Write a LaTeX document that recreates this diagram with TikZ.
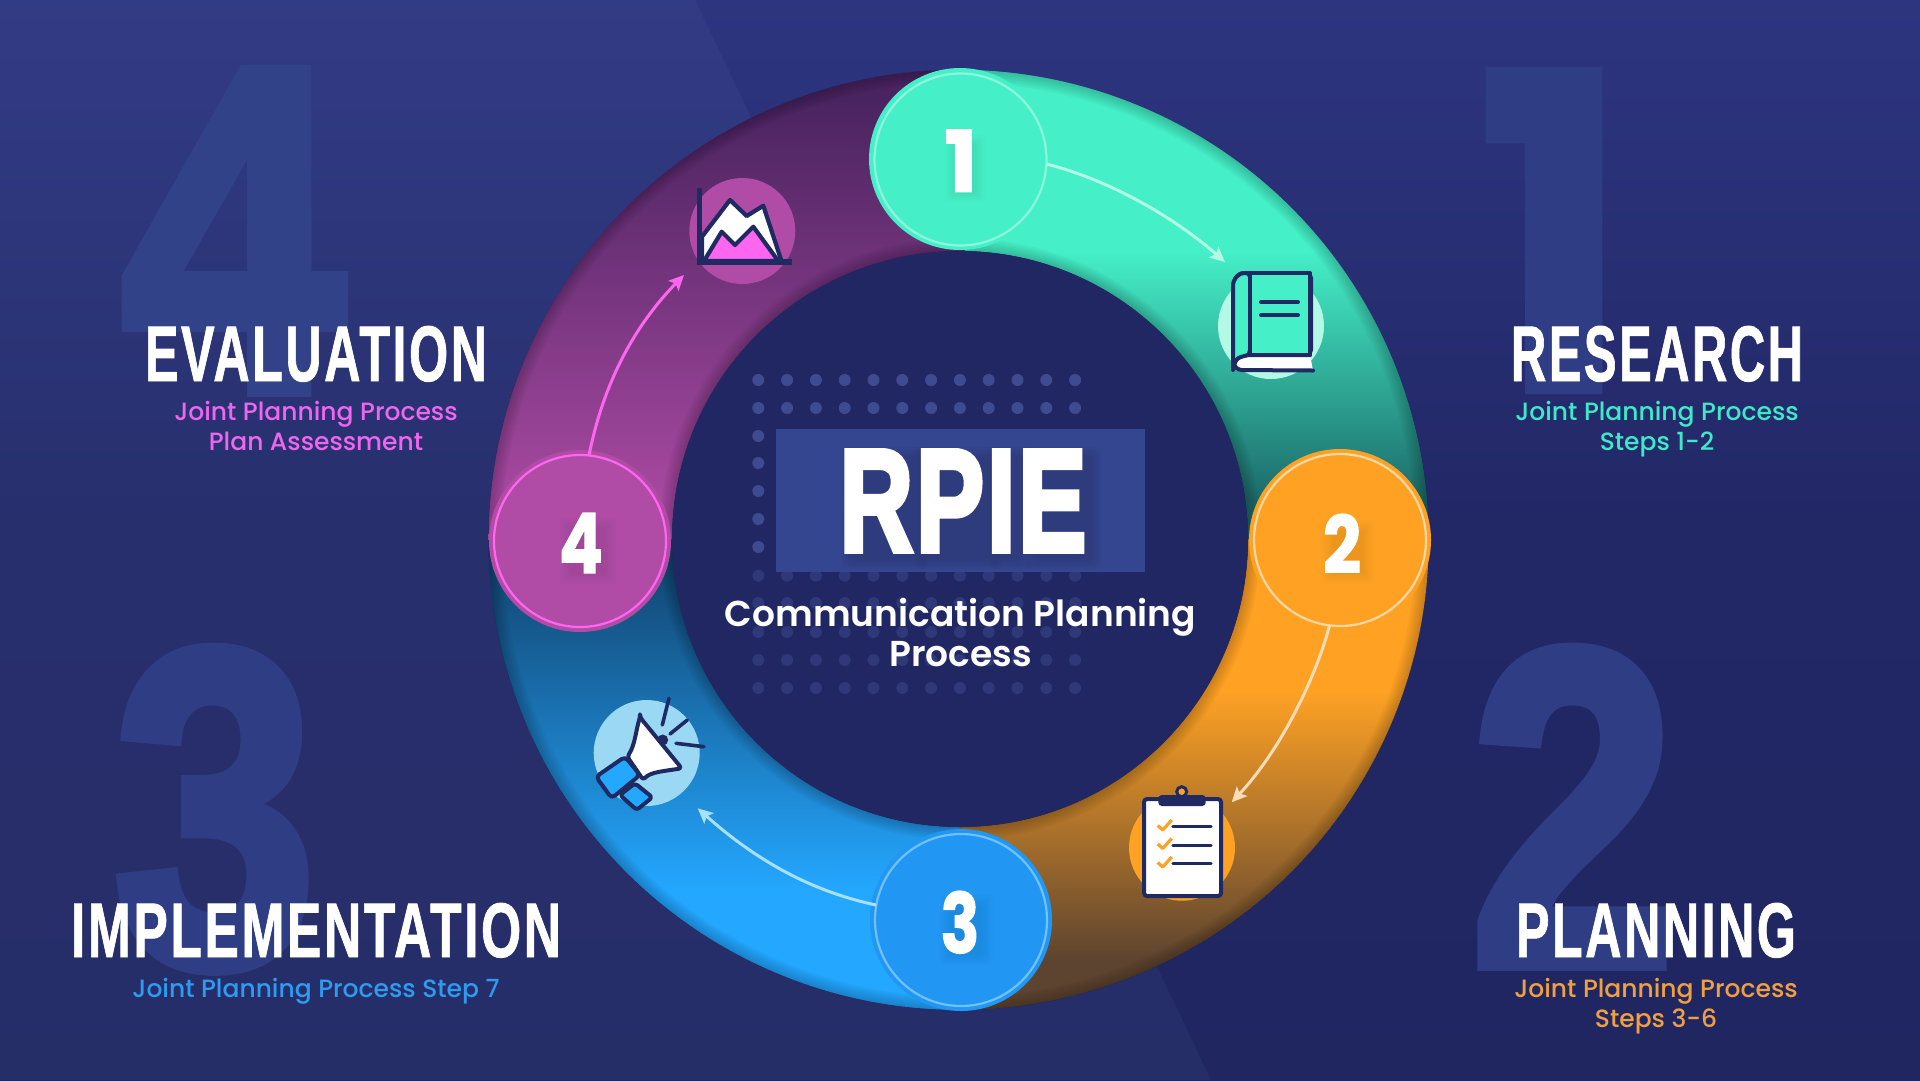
\documentclass[tikz,border=0pt]{standalone}
\usepackage{fontspec}
\usepackage{graphicx}
\usetikzlibrary{arrows.meta}
\setmainfont{Poppins}
\newfontfamily\hdfont[FakeBold=1.2,LetterSpace=5]{Liberation Sans Bold}
\newfontfamily\bigfont[FakeBold=4,LetterSpace=3]{Liberation Sans Bold}
\newfontfamily\ghostfont[FakeBold=3]{Liberation Sans Bold}
\newfontfamily\digitfont[FakeBold=1.5]{Poppins Bold}
\newfontfamily\popmed{Poppins Medium}
\newfontfamily\popsemi{Poppins SemiBold}
\definecolor{navy}{HTML}{1F2A63}
\definecolor{innerdisk}{HTML}{212762}
\definecolor{bgtop}{HTML}{2D3580}
\definecolor{bgmid}{HTML}{222866}
\definecolor{bgbot}{HTML}{202660}
\definecolor{ghost}{HTML}{2F3D84}
\definecolor{ghostb}{HTML}{324289}
\definecolor{plaque}{HTML}{34468F}
\definecolor{dotA}{HTML}{3E4B90}
\definecolor{dotB}{HTML}{2F3878}
\definecolor{teal}{HTML}{45F0C8}
\definecolor{tealdark}{HTML}{1C6A6A}
\definecolor{tealring}{HTML}{8FF6DE}
\definecolor{tealpale}{HTML}{B4F9E6}
\definecolor{orng}{HTML}{FFA224}
\definecolor{orngdark}{HTML}{5D4430}
\definecolor{orngring}{HTML}{FBD7A5}
\definecolor{orngpale}{HTML}{F8DCB8}
\definecolor{blu}{HTML}{24A7FF}
\definecolor{bludark}{HTML}{124570}
\definecolor{bludisk}{HTML}{2196F3}
\definecolor{bluring}{HTML}{6FC2FA}
\definecolor{blupale}{HTML}{A8E0FF}
\definecolor{blucirc}{HTML}{9AD8F4}
\definecolor{purp}{HTML}{B04CA6}
\definecolor{purpdark}{HTML}{4A2460}
\definecolor{pink}{HTML}{FF66F0}
\definecolor{subteal}{HTML}{3FE8C8}
\definecolor{subpink}{HTML}{EE66EE}
\definecolor{subblue}{HTML}{2E9BF0}
\definecolor{suborng}{HTML}{F0A040}
\newcommand{\fitbox}[3]{\resizebox{#1pt}{#2pt}{\hdfont #3}}
\newcommand{\fitbig}[3]{\resizebox{#1pt}{#2pt}{\bigfont #3}}
\newcommand{\fitghost}[3]{\resizebox{#1pt}{#2pt}{\ghostfont #3}}
\newcommand{\fitdigit}[3]{\resizebox{#1pt}{#2pt}{\digitfont #3}}
% annular sector with a vertical colour ramp between y=#3 and y=#4
\newcommand{\band}[6]{%
  \begin{scope}
    \clip ([shift={(958.7,539.8)}]#1:470) arc[start angle=#1,end angle=#2,radius=470]
       -- ([shift={(960,539)}]#2:288) arc[start angle=#2,end angle=#1,radius=288] -- cycle;
    \fill[#5] (480,60) rectangle (1440,#3);
    \shade[top color=#5,bottom color=#6] (480,#3) rectangle (1440,#4);
    \fill[#6] (480,#4) rectangle (1440,1020);
  \end{scope}}
\newcommand{\softrect}[5]{%
  \foreach \s in {0,2,...,10}
    \fill[black,opacity=#5,rounded corners=3pt] (#1-\s,#2-\s) rectangle (#3+\s,#4+\s);}
\tikzset{
  heading/.style={text=white,inner sep=0pt,anchor=base},
  ghostnum/.style={text=ghost,inner sep=0pt,anchor=base},
  subline/.style={inner sep=0pt,align=center,font=\popmed\fontsize{25}{30.6}\selectfont},
  disknode/.style={circle,inner sep=0pt,outer sep=0pt,minimum size=172pt,line width=2.2pt,text=white},
  iconback/.style={circle,inner sep=0pt,outer sep=0pt,minimum size=106pt},
  iconline/.style={draw=navy,line width=4pt,line join=round,line cap=round},
  arrowline/.style={line width=3pt,-{Stealth[length=15pt,width=14pt,inset=3pt]}}
}
\begin{document}
\begin{tikzpicture}[x=1pt,y=-1pt]
\useasboundingbox (0,0) rectangle (1920,1080);
% background
\shade[top color=bgtop,bottom color=bgmid] (0,0) rectangle (1920,520);
\shade[top color=bgmid,bottom color=bgbot] (0,520) rectangle (1920,1080);
\fill[fill={rgb,255:red,110;green,140;blue,200},opacity=.08] (0,0) -- (695,0) -- (1211,1080) -- (0,1080) -- cycle;
% ghost numerals
\node[ghostnum,text=ghostb] (g4) at (233,390) {\fitghost{222}{318}{4}};
\node[ghostnum] (g1) at (1553,391) {\fitdigit{150}{320}{1}};
\node[ghostnum] (g3) at (215,964) {\fitghost{202}{314}{3}};
\node[ghostnum] (g2) at (1573,964) {\fitghost{205}{314}{2}};
% ring
\band{-90}{1}{250}{500}{teal}{tealdark}
\band{0}{91}{690}{960}{orng}{orngdark}
\band{90}{181}{560}{890}{bludark}{blu}
\band{180}{271}{100}{540}{purpdark}{purp}
\begin{scope}
  \clip (958.7,539.8) circle[radius=470];
  \foreach \w in {2,6,...,26}{
    \draw[black,opacity=.03,line width=\w pt] (958.7,539.8) circle[radius=470];
    \draw[black,opacity=.03,line width=\w pt] (960,539) circle[radius=288];
  }
\end{scope}
% centre
\fill[innerdisk] (960,539) circle[radius=288];
\foreach \yy/\cc in {380/dotA,408/dotA,575.7/dotB,603/dotB,632/dotB,660/dotB,688/dotB}{
  \foreach \k in {0,...,11}
    \fill[\cc] ({758.3+28.8*\k},\yy) circle[radius=6];
}
\foreach \yy/\cc in {436/dotA,463/dotA,491/dotA,519/dotA,547/dotA}
  \fill[\cc] (758.3,\yy) circle[radius=6];
\node[fill=plaque,inner sep=0pt,minimum width=369pt,minimum height=143pt] (plq) at (960.5,500.3) {};
\softrect{851}{457}{918}{559}{.014}
\softrect{925}{457}{991}{559}{.014}
\softrect{998}{457}{1021}{559}{.014}
\softrect{1035}{457}{1091}{559}{.014}
\node[heading] (title) at (963,551) {\fitbig{247}{100}{RPIE}};
\node[inner sep=0pt,align=center,text=white,font=\popsemi\fontsize{36}{40}\selectfont] (subtitle) at (960.5,633) {Communication Planning\\Process};
% step disks
\fill[teal] (960,159) circle[radius=91];
\node[disknode,draw=tealring] (c1) at (960.5,159.5) {};
\fill[orng] (1340,540) circle[radius=91];
\node[disknode,draw=orngring] (c2) at (1340,540) {};
\fill[bludisk] (961,920) circle[radius=91];
\node[disknode,draw=bluring] (c3) at (961,920) {};
\fill[purp] (580,541) circle[radius=91];
\node[disknode,draw=pink] (c4) at (580,541) {};
% numeral shadows
\softrect{955}{145}{975}{192}{.012}
\softrect{1332}{530}{1364}{574}{.012}
\softrect{950}{905}{983}{955}{.012}
\softrect{570}{528}{606}{574}{.012}
\node[heading] (n1) at (961,191.7) {\fitdigit{33}{62}{1}};
\node[heading] (n2) at (1342,573) {\fitdigit{38}{59}{2}};
\node[heading] (n3) at (960,953) {\fitdigit{39}{62}{3}};
\node[heading] (n4) at (581,573) {\fitdigit{44}{60}{4}};
% icon backs
\node[iconback,fill=tealpale] (i1) at (1271,326) {};
\node[iconback,fill=orng] (i2) at (1182,847.7) {};
\node[iconback,fill=blucirc] (i3) at (646.7,753) {};
\node[iconback,fill=purp] (i4) at (742.3,231) {};
% arrows
\coordinate (t1) at (1225,262);
\coordinate (t2) at (1231.7,802.3);
\coordinate (t3) at (697.7,808.3);
\coordinate (t4) at (684,275);
\draw[arrowline,draw=tealpale,-{Stealth[length=15pt,width=14pt,inset=3pt,fill=tealpale]}] (c1.-3) .. controls (1110,180) and (1175,218) .. (t1);
\draw[arrowline,draw=orngpale] (c2.-97) .. controls (1318,670) and (1285,745) .. (t2);
\draw[arrowline,draw=blupale] (c3.170) .. controls (805,890) and (750,855) .. (t3);
\draw[arrowline,draw=pink] (c4.84) .. controls (605,375) and (640,320) .. (t4);
% book icon
\draw[iconline,fill=teal,rounded corners=5pt] (1233,370) -- (1233,282) -- (1239,273) -- (1311,273) -- (1311,355) -- (1248,355);
\draw[iconline,fill=teal,rounded corners=4pt] (1250,273) -- (1240,273) -- (1233,281) -- (1233,365) -- (1250,354) -- cycle;
\draw[iconline,fill=teal] (1250,273) -- (1310,273) -- (1310,355) -- (1250,355) -- cycle;
\draw[iconline,fill=white,rounded corners=7pt] (1310,355) -- (1244,355) -- (1233,361) -- (1235,370) -- (1313,370.5);
\draw[navy,line width=4pt,line cap=round] (1261,302) -- (1298,302);
\draw[navy,line width=4pt,line cap=round] (1261,315) -- (1298,315);
% clipboard icon
\draw[iconline,fill=white,rounded corners=3pt] (1144,799) rectangle (1221,896);
\draw[navy,line width=3pt,fill=orng] (1181.7,791.7) circle[radius=5];
\fill[navy,rounded corners=3.5pt] (1158.3,795) rectangle (1205.7,806);
\foreach \dy in {0,18.5,37}{
  \draw[navy,line width=3.4pt,line cap=round] (1173,826.7+\dy) -- (1211,826.7+\dy);
  \draw[orng,line width=3.2pt,line join=round] (1157.7,825.5+\dy) -- (1162.7,830+\dy) -- (1171.7,820+\dy);
}
% chart icon
\draw[iconline,fill=white,line width=4.2pt,miter limit=6] (702,236.7) -- (730,200) -- (746.7,216) -- (763.3,205.7) -- (781.7,261.7) -- (702,261.7) -- cycle;
\draw[iconline,fill=pink,line width=4.2pt] (704,261) -- (721.7,231.7) -- (735,245) -- (753.3,226.7) -- (778.3,261) -- cycle;
\draw[navy,line width=5.5pt] (699.3,188) -- (699.3,262) -- (791.7,262);
% megaphone icon
\fill[navy] (662.7,740) circle[radius=5.5];
\draw[iconline,fill=white,rounded corners=3pt] (640,717.3) -- (681.7,768.3) .. controls (665,771) and (650,772) .. (643.3,780) -- (627.3,756.7) .. controls (635,745) and (636,730) .. cycle;
\draw[iconline,fill=blu,rounded corners=3pt] (620,795) -- (635,783.3) -- (652.3,797.3) -- (636.7,810) -- cycle;
\draw[iconline,fill=blu,rounded corners=4pt] (596,776.7) -- (625,756.7) -- (640,775) -- (611.7,798.3) -- cycle;
\draw[navy,line width=3.6pt,line cap=round] (669,698.3) -- (662.3,725);
\draw[navy,line width=3.6pt,line cap=round] (687.3,720) -- (670,734);
\draw[navy,line width=3.6pt,line cap=round] (676,743.3) -- (704,746.7);
% headings
\node[heading] (h4) at (316,381) {\fitbox{342}{55}{EVALUATION}};
\node[heading] (h1) at (1657,381) {\fitbox{292}{55}{RESEARCH}};
\node[heading] (h3) at (316,957) {\fitbox{490}{54}{IMPLEMENTATION}};
\node[heading] (h2) at (1656,957) {\fitbox{280}{54}{PLANNING}};
\node[subline,text=subpink] (s4) at (316,426) {Joint Planning Process\\Plan Assessment};
\node[subline,text=subteal] (s1) at (1657,429) {Joint Planning Process\\Steps 1-2};
\node[subline,text=subblue] (s3) at (316,991) {Joint Planning Process Step 7};
\node[subline,text=suborng] (s2) at (1656,1006) {Joint Planning Process\\Steps 3-6};
\end{tikzpicture}
\end{document}
